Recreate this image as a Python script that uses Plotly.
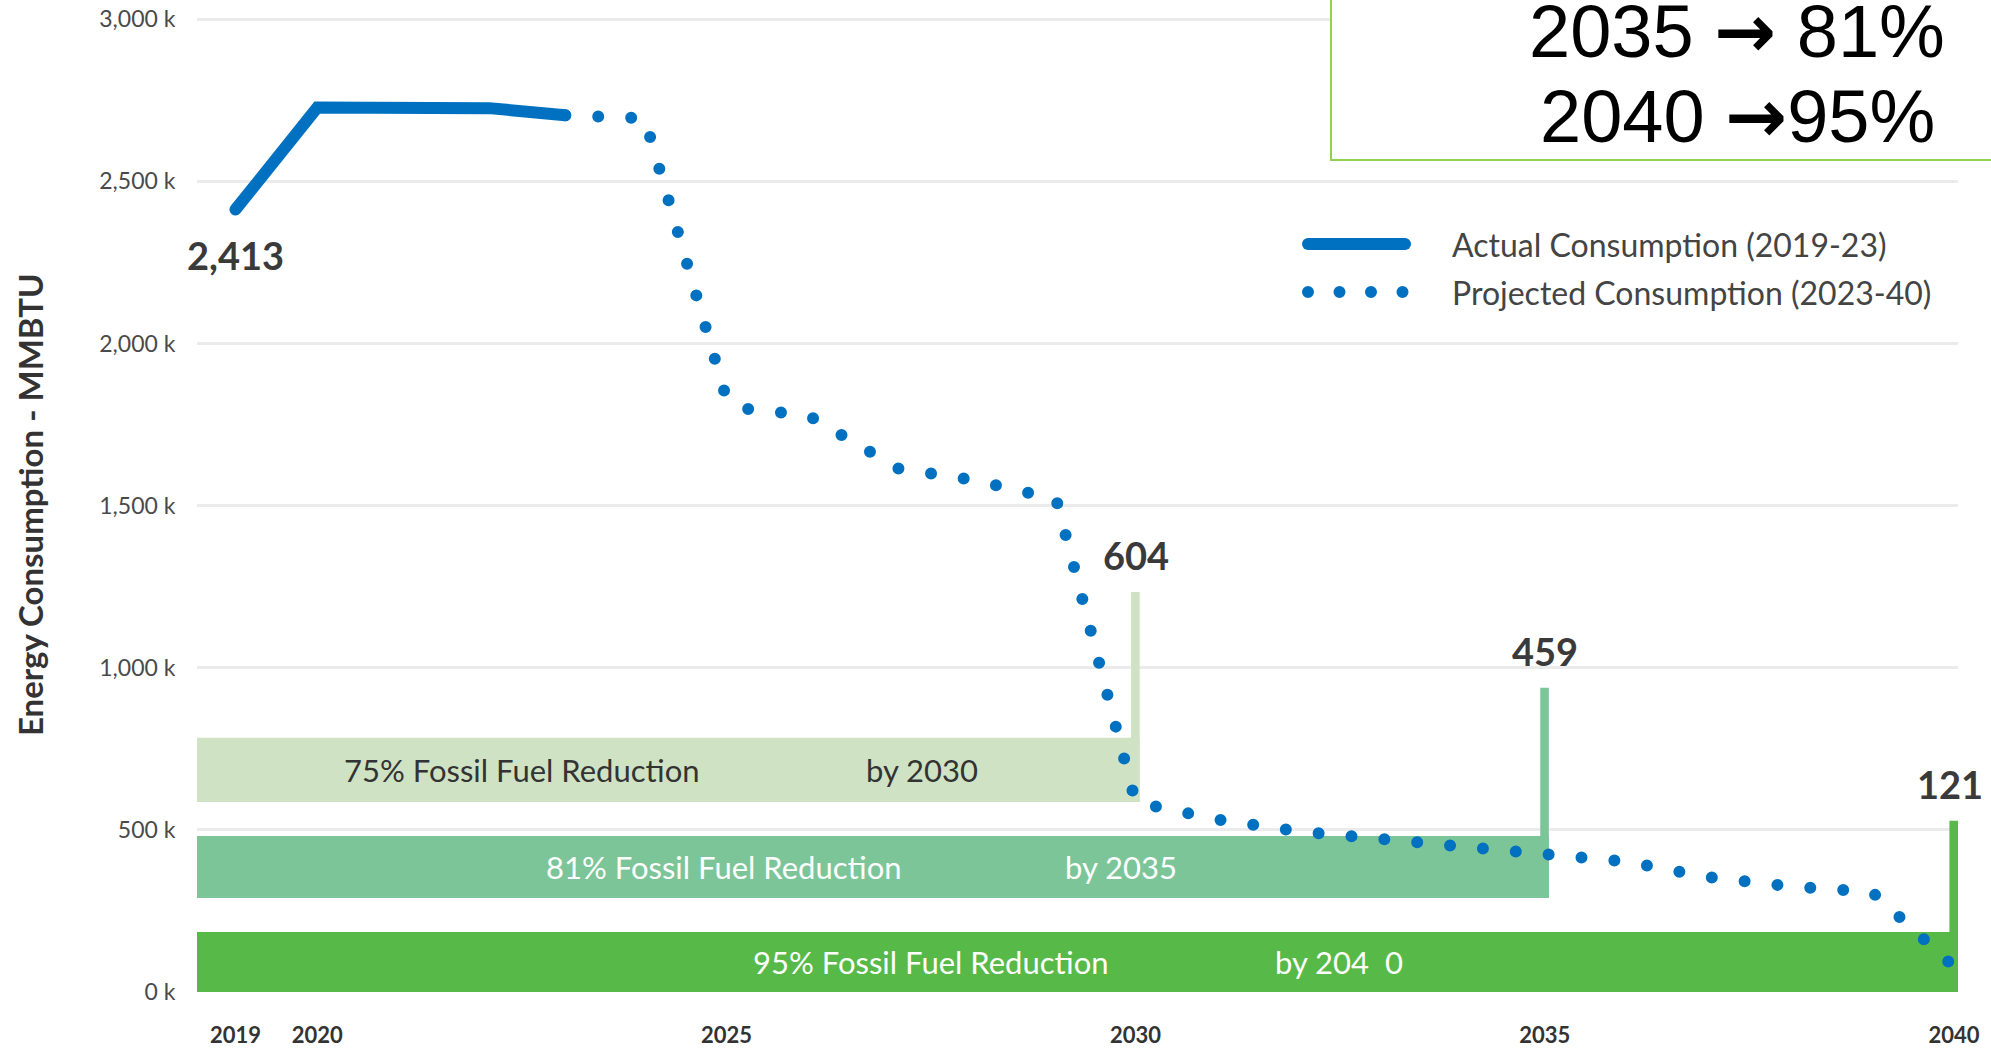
import plotly.graph_objects as go

# ---- data (thousand MMBTU) ----
actual_years = [2019, 2020, 2022.1, 2023.03]
actual_values = [2413, 2728, 2726, 2704]

projected_years = [2023.03, 2024.0, 2025.0, 2025.2, 2026.0, 2027.1, 2028.0, 2029.03,
                   2030, 2031, 2032, 2033, 2034, 2035, 2036, 2037, 2038, 2039, 2040]
projected_values = [2704, 2695, 1830, 1800, 1778, 1615, 1580, 1520,
                    585, 532, 495, 471, 455, 432, 402, 354, 326, 308, 78]

target_years = [2030, 2035, 2040]
target_values = [604, 459, 121]
target_names = ["75% Fossil Fuel Reduction", "81% Fossil Fuel Reduction", "95% Fossil Fuel Reduction"]
target_by = ["by 2030", "by 2035", "by 204  0"]
band_low = [586, 290, 0]
band_high = [784, 481, 185]
marker_top = [1234, 938, 528]

y_ticks = [0, 500, 1000, 1500, 2000, 2500, 3000]
y_tick_text = ["0 k", "500 k", "1,000 k", "1,500 k", "2,000 k", "2,500 k", "3,000 k"]
x_ticks = [2019, 2020, 2025, 2030, 2035, 2040]
x_tick_text = ["2019", "2020", "2025", "2030", "2035", "2040"]

goal_lines = [("2035 ", " 81%"), ("2040 ", "95%")]
legend_names = ["Actual Consumption (2019-23)", "Projected Consumption (2023-40)"]

# ---- style ----
BLUE = "#0070c0"
BAND_COLORS = ["#cfe3c4", "#7cc598", "#57b947"]
BAND_TEXT = ["#333333", "#ffffff", "#ffffff"]
FONT = "Lato, sans-serif"
W, H = 1991, 1050
L, R, T, B = 197, 33, 18, 58
X_RANGE = [2018.53, 2040.05]
Y_RANGE = [0, 3004]

# band label positions (year) for the two text pieces in each band
name_x = [2022.5, 2024.97, 2027.5]
by_x = [2027.39, 2029.82, 2032.49]


def px_x(px):
    return (px - L) / (W - L - R)


def px_y(py):
    return (H - B - py) / (H - T - B)


fig = go.Figure()
fig.add_trace(go.Scatter(
    x=actual_years, y=actual_values, mode="lines", name=legend_names[0],
    line=dict(color=BLUE, width=12),
))
fig.add_trace(go.Scatter(
    x=projected_years, y=projected_values, mode="lines", name=legend_names[1],
    line=dict(color=BLUE, width=12, dash="0px,33px"),
))

shapes = []
annotations = []
for i, yr in enumerate(target_years):
    shapes.append(dict(type="rect", xref="x", yref="y", x0=X_RANGE[0], x1=yr + 0.05,
                       y0=band_low[i], y1=band_high[i], fillcolor=BAND_COLORS[i],
                       line_width=0, layer="between"))
    shapes.append(dict(type="rect", xref="x", yref="y", x0=yr - 0.055, x1=yr + 0.05,
                       y0=band_low[i], y1=marker_top[i], fillcolor=BAND_COLORS[i],
                       line_width=0, layer="between"))
    mid = (band_low[i] + band_high[i]) / 2
    for tx, txt in ((name_x[i], target_names[i]), (by_x[i], target_by[i])):
        annotations.append(dict(x=tx, y=mid, xref="x", yref="y", text=txt, showarrow=False,
                                font=dict(family=FONT, size=31, color=BAND_TEXT[i])))
    annotations.append(dict(x=yr, y=marker_top[i], xref="x", yref="y",
                            text=f"{target_values[i]:,}", showarrow=False, yshift=37,
                            xshift=-4 if i == 2 else 0,
                            font=dict(family=FONT, size=38, color="#3a3a3a", weight="bold")))

annotations.append(dict(x=actual_years[0], y=actual_values[0], xref="x", yref="y",
                        text=f"{actual_values[0]:,}", showarrow=False, yshift=-45,
                        font=dict(family=FONT, size=38, color="#3a3a3a", weight="bold")))

# y-axis title
annotations.append(dict(x=px_x(30), y=px_y(505), xref="paper", yref="paper",
                        xanchor="center", yanchor="middle",
                        text="Energy Consumption - MMBTU", textangle=-90, showarrow=False,
                        font=dict(family=FONT, size=33, color="#333333", weight="bold")))

# hand-drawn legend
shapes.append(dict(type="line", xref="paper", yref="paper", x0=px_x(1308), x1=px_x(1405),
                   y0=px_y(244), y1=px_y(244), line=dict(color=BLUE, width=12)))
shapes.append(dict(type="line", xref="paper", yref="paper", x0=px_x(1308), x1=px_x(1403),
                   y0=px_y(292), y1=px_y(292), line=dict(color=BLUE, width=12, dash="0px,31.5px")))
for name, py in zip(legend_names, (244, 292)):
    annotations.append(dict(x=px_x(1450), y=px_y(py), xref="paper", yref="paper", text=name,
                            xanchor="left", yanchor="middle", showarrow=False,
                            font=dict(family=FONT, size=32, color="#444444")))

# goal box in the top right corner
shapes.append(dict(type="rect", xref="paper", yref="paper", x0=px_x(1331), x1=px_x(2150),
                   y0=px_y(160), y1=px_y(-100), fillcolor="white",
                   line=dict(color="#92d050", width=2)))
ARROW = "<span style='font-family:DejaVu Sans;font-weight:bold'>\u2192</span>"
for (left, right), py in zip(goal_lines, (31, 116)):
    annotations.append(dict(x=px_x(1737), y=px_y(py), xref="paper", yref="paper",
                            text=left + ARROW + right, xanchor="center", yanchor="middle",
                            showarrow=False,
                            font=dict(family="Liberation Sans, Arial", size=74, color="black")))

fig.update_layout(
    width=W, height=H,
    margin=dict(l=L, r=R, t=T, b=B),
    paper_bgcolor="white", plot_bgcolor="white",
    showlegend=False,
    shapes=shapes, annotations=annotations,
)
fig.update_xaxes(
    range=X_RANGE, tickvals=x_ticks, ticktext=x_tick_text, showgrid=False, zeroline=False,
    automargin=False, ticks="outside", ticklen=24, tickcolor="rgba(0,0,0,0)",
    tickfont=dict(family=FONT, size=22, color="#333333", weight="bold"),
)
fig.update_yaxes(
    range=Y_RANGE, tickvals=y_ticks, ticktext=y_tick_text, showgrid=True,
    gridcolor="#ebebeb", gridwidth=2.5, zeroline=False,
    automargin=False, ticks="outside", ticklen=16, tickcolor="rgba(0,0,0,0)",
    tickfont=dict(family=FONT, size=23, color="#4a4a4a"),
)

# round caps turn the zero-length dashes into dots
ROUND_CAPS = """
var gd = document.getElementById('{plot_id}');
document.body.style.margin = '0';
function roundCaps() {
  gd.querySelectorAll('path.js-line, .shapelayer path').forEach(function (p) {
    p.style.strokeLinecap = 'round';
  });
}
roundCaps();
gd.on('plotly_afterplot', roundCaps);
"""

fig.write_html("out.html", post_script=ROUND_CAPS, config={"displayModeBar": False})
